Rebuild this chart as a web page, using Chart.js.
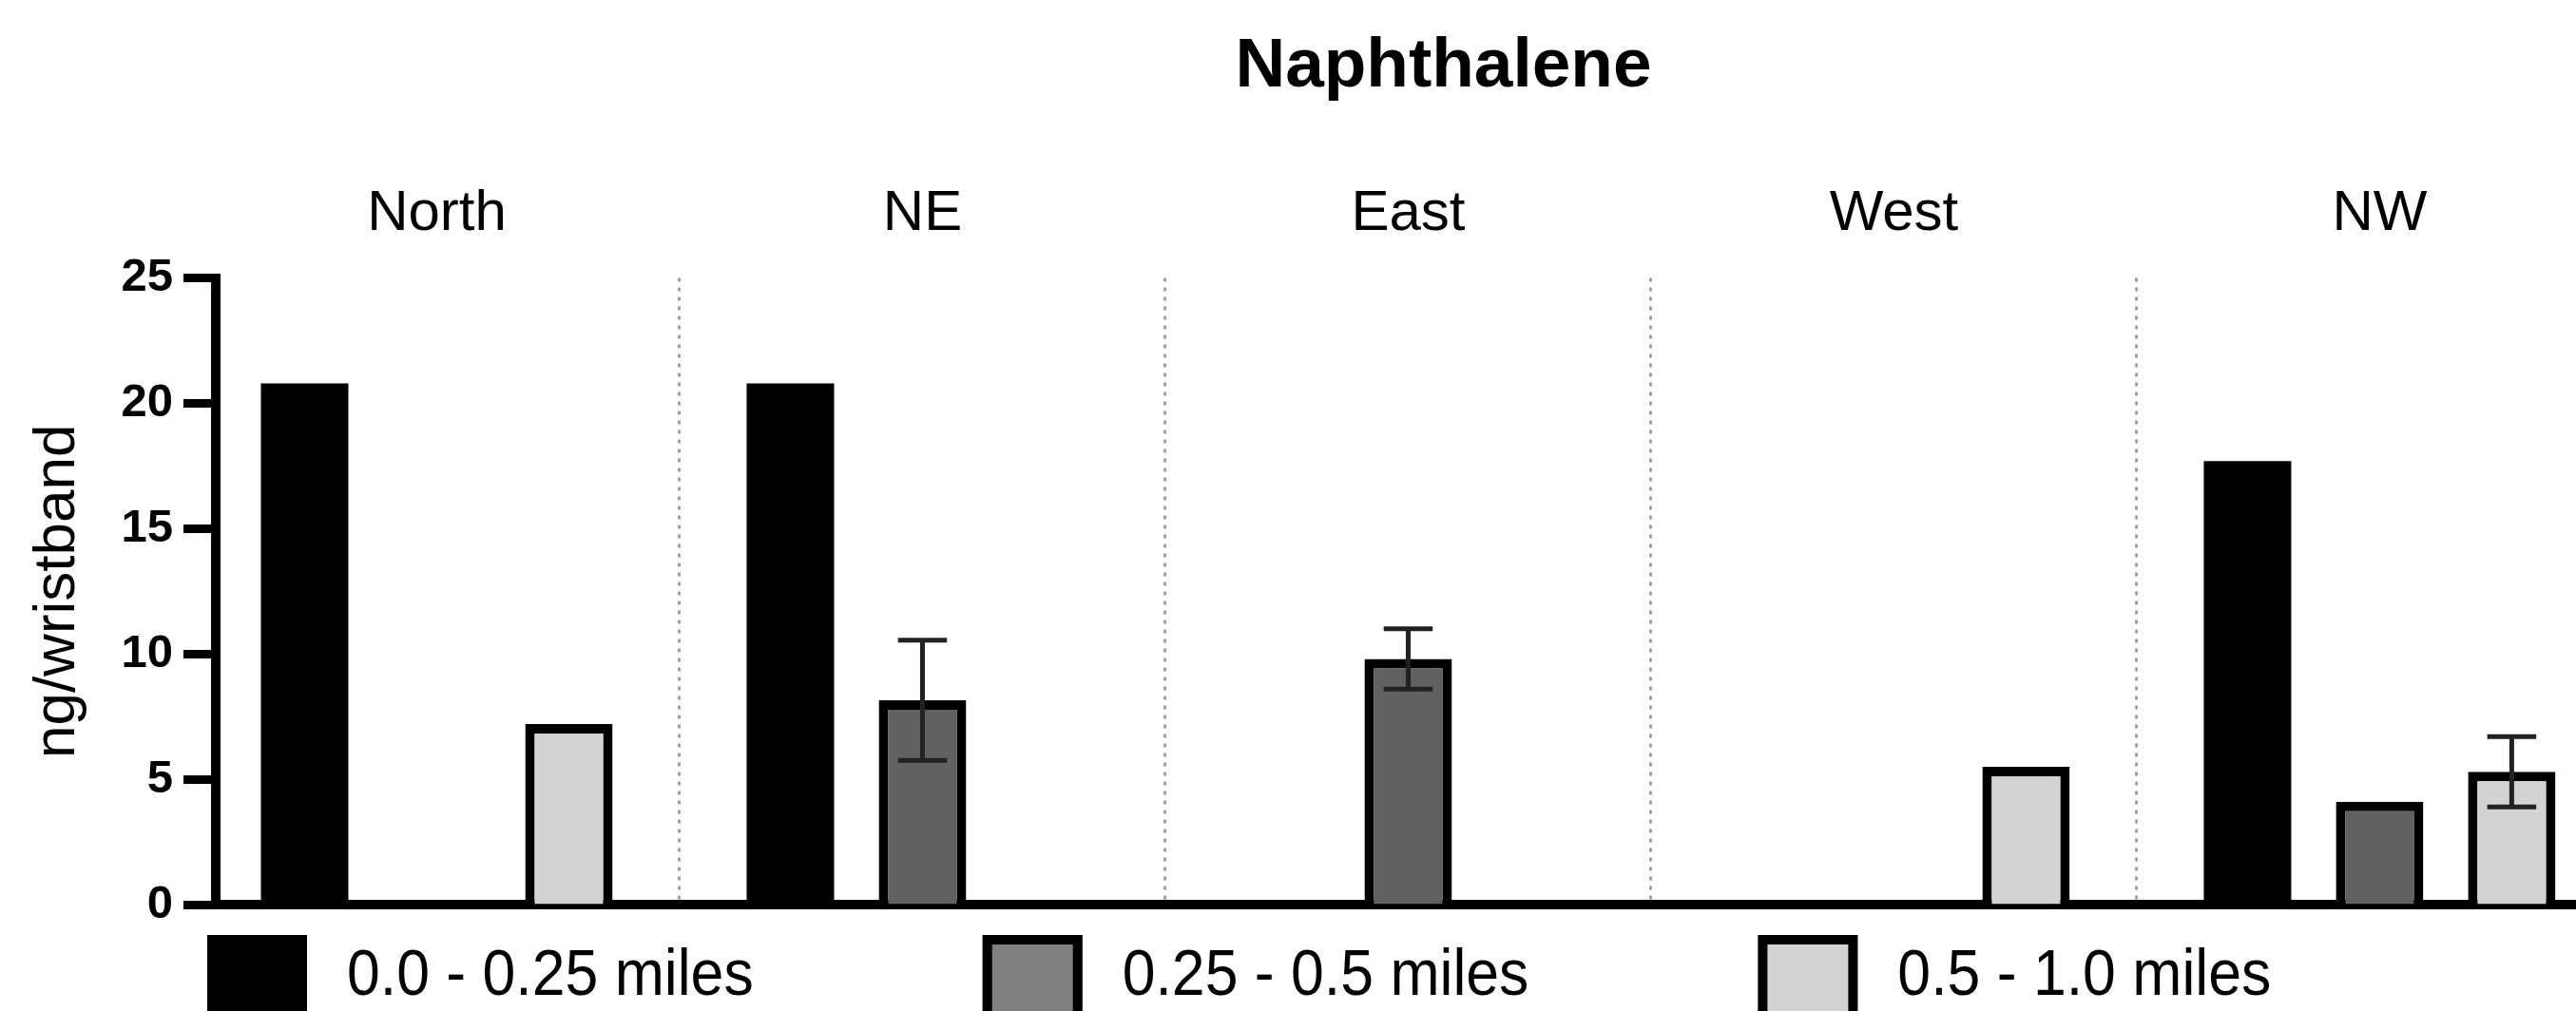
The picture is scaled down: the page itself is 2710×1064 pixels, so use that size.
<!DOCTYPE html>
<html>
<head>
<meta charset="utf-8">
<script src="https://cdn.jsdelivr.net/npm/chart.js@4/dist/chart.umd.min.js"></script>
<style>
  html, body { margin: 0; padding: 0; background: #ffffff; overflow: hidden; }
  #wrap { position: relative; width: 2810px; height: 1064px; }
</style>
</head>
<body>
<div id="wrap"><canvas id="c"></canvas></div>
<script>
// ---- data ----
const categories = ['North', 'NE', 'East', 'West', 'NW'];
const seriesLabels = ['0.0 - 0.25 miles', '0.25 - 0.5 miles', '0.5 - 1.0 miles'];
const near = [20.8, 20.8, null, null, 17.7];   // 0.0 - 0.25 miles
const mid  = [null, 8.15, 9.8, null, 4.1];     // 0.25 - 0.5 miles
const far  = [7.2, null, null, 5.5, 5.3];      // 0.5 - 1.0 miles
const nearErr = [null, null, null, null, null];
const midErr  = [null, 2.4, 1.2, null, null];
const farErr  = [null, null, null, null, 1.4];
const yTickValues = [0, 5, 10, 15, 20, 25];

const FONT = '"Liberation Sans", Arial, sans-serif';

function toPoints(arr) {
  return arr.map((v, i) => ({ x: i + 0.5, y: v }));
}

const errorBars = {
  id: 'errorBars',
  afterDatasetsDraw(chart) {
    const ctx = chart.ctx;
    const yScale = chart.scales.y;
    chart.data.datasets.forEach((ds, di) => {
      if (!ds.errors) return;
      const meta = chart.getDatasetMeta(di);
      ds.errors.forEach((e, j) => {
        const p = ds.data[j];
        if (e == null || p == null || p.y == null) return;
        const el = meta.data[j];
        const x = el.x;
        const capHalf = el.width * 0.28;
        const yt = yScale.getPixelForValue(p.y + e);
        const yb = yScale.getPixelForValue(p.y - e);
        ctx.save();
        ctx.strokeStyle = '#222222';
        ctx.lineWidth = 5;
        ctx.beginPath();
        ctx.moveTo(x, yt); ctx.lineTo(x, yb);
        ctx.moveTo(x - capHalf, yt); ctx.lineTo(x + capHalf, yt);
        ctx.moveTo(x - capHalf, yb); ctx.lineTo(x + capHalf, yb);
        ctx.stroke();
        ctx.restore();
      });
    });
  }
};

const boxLegend = {
  id: 'boxLegend',
  afterDraw(chart, args, o) {
    const ctx = chart.ctx;
    ctx.save();
    ctx.font = o.fontSize + 'px ' + FONT;
    ctx.textBaseline = 'alphabetic';
    let x = o.left;
    chart.data.datasets.forEach(ds => {
      ctx.fillStyle = ds.legendColor || ds.backgroundColor;
      ctx.fillRect(x, o.top, o.boxWidth, o.boxHeight);
      if (ds.borderWidth) {
        const bw = ds.borderWidth;
        ctx.lineWidth = bw;
        ctx.strokeStyle = ds.borderColor;
        ctx.strokeRect(x + bw / 2, o.top + bw / 2, o.boxWidth - bw, o.boxHeight - bw);
      }
      const tx = x + o.boxWidth + o.gap;
      ctx.save();
      ctx.translate(tx, o.baseline);
      ctx.scale(o.scaleX, 1);
      ctx.fillStyle = '#000000';
      ctx.fillText(ds.label, 0, 0);
      ctx.restore();
      const w = ctx.measureText(ds.label).width * o.scaleX;
      x = tx + w + o.itemGap;
    });
    ctx.restore();
  }
};

const X_MIN = 0.045, X_MAX = 5.1;

new Chart(document.getElementById('c'), {
  type: 'bar',
  data: {
    datasets: [
      { label: seriesLabels[0], data: toPoints(near), errors: nearErr,
        backgroundColor: '#000000', borderColor: '#000000', borderWidth: 0 },
      { label: seriesLabels[1], data: toPoints(mid), errors: midErr,
        backgroundColor: '#616161', legendColor: '#808080', borderColor: '#000000', borderWidth: 10 },
      { label: seriesLabels[2], data: toPoints(far), errors: farErr,
        backgroundColor: '#d3d3d3', borderColor: '#000000', borderWidth: 10 }
    ]
  },
  options: {
    responsive: true,
    maintainAspectRatio: false,
    animation: false,
    events: [],
    categoryPercentage: 0.816,
    barPercentage: 0.662,
    layout: { padding: { left: 0, right: 0, top: 0, bottom: 112 } },
    plugins: {
      legend: { display: false },
      tooltip: { enabled: false },
      title: {
        display: true,
        text: 'Naphthalene',
        fullSize: false,
        color: '#000000',
        font: { family: FONT, size: 73, weight: 'bold', lineHeight: 1.2 },
        padding: { top: 27, bottom: 44 }
      },
      boxLegend: {
        left: 218, top: 984, boxWidth: 105, boxHeight: 110,
        gap: 42, itemGap: 241, fontSize: 68, scaleX: 0.92, baseline: 1047
      }
    },
    scales: {
      x: {
        type: 'linear',
        position: 'bottom',
        offset: false,
        min: X_MIN, max: X_MAX,
        afterBuildTicks(scale) {
          scale.ticks = categories.slice(1).map((c, i) => ({ value: i + 1 }));
        },
        ticks: { display: false },
        grid: { display: true, offset: false, drawOnChartArea: true, drawTicks: false, color: '#a0a0a0', lineWidth: 3 },
        border: { display: true, color: '#000000', width: 10, dash: [4, 6] }
      },
      x2: {
        type: 'linear',
        axis: 'x',
        position: 'top',
        offset: false,
        min: X_MIN, max: X_MAX,
        afterBuildTicks(scale) {
          scale.ticks = categories.map((c, i) => ({ value: i + 0.5 }));
        },
        ticks: {
          autoSkip: false, maxRotation: 0, padding: 31, color: '#000000',
          font: { family: FONT, size: 60, lineHeight: 1.2 },
          callback: (v) => categories[Math.floor(v)]
        },
        grid: { display: false, offset: false, drawTicks: false },
        border: { display: false }
      },
      y: {
        min: 0, max: 25,
        afterFit(scale) { scale.width = 227; },
        afterBuildTicks(scale) {
          scale.ticks = yTickValues.map(v => ({ value: v }));
        },
        ticks: {
          padding: 11, color: '#000000',
          font: { family: FONT, size: 49, weight: 'bold' }
        },
        grid: {
          display: true, drawOnChartArea: false, drawTicks: true,
          tickLength: 34, tickWidth: 9, tickColor: '#000000'
        },
        border: { display: true, color: '#000000', width: 10 },
        title: {
          display: true, text: 'ng/wristband', color: '#000000',
          font: { family: FONT, size: 62, lineHeight: 1.2 },
          padding: { top: 24, bottom: 0 }
        }
      }
    }
  },
  plugins: [errorBars, boxLegend]
});
</script>
</body>
</html>
